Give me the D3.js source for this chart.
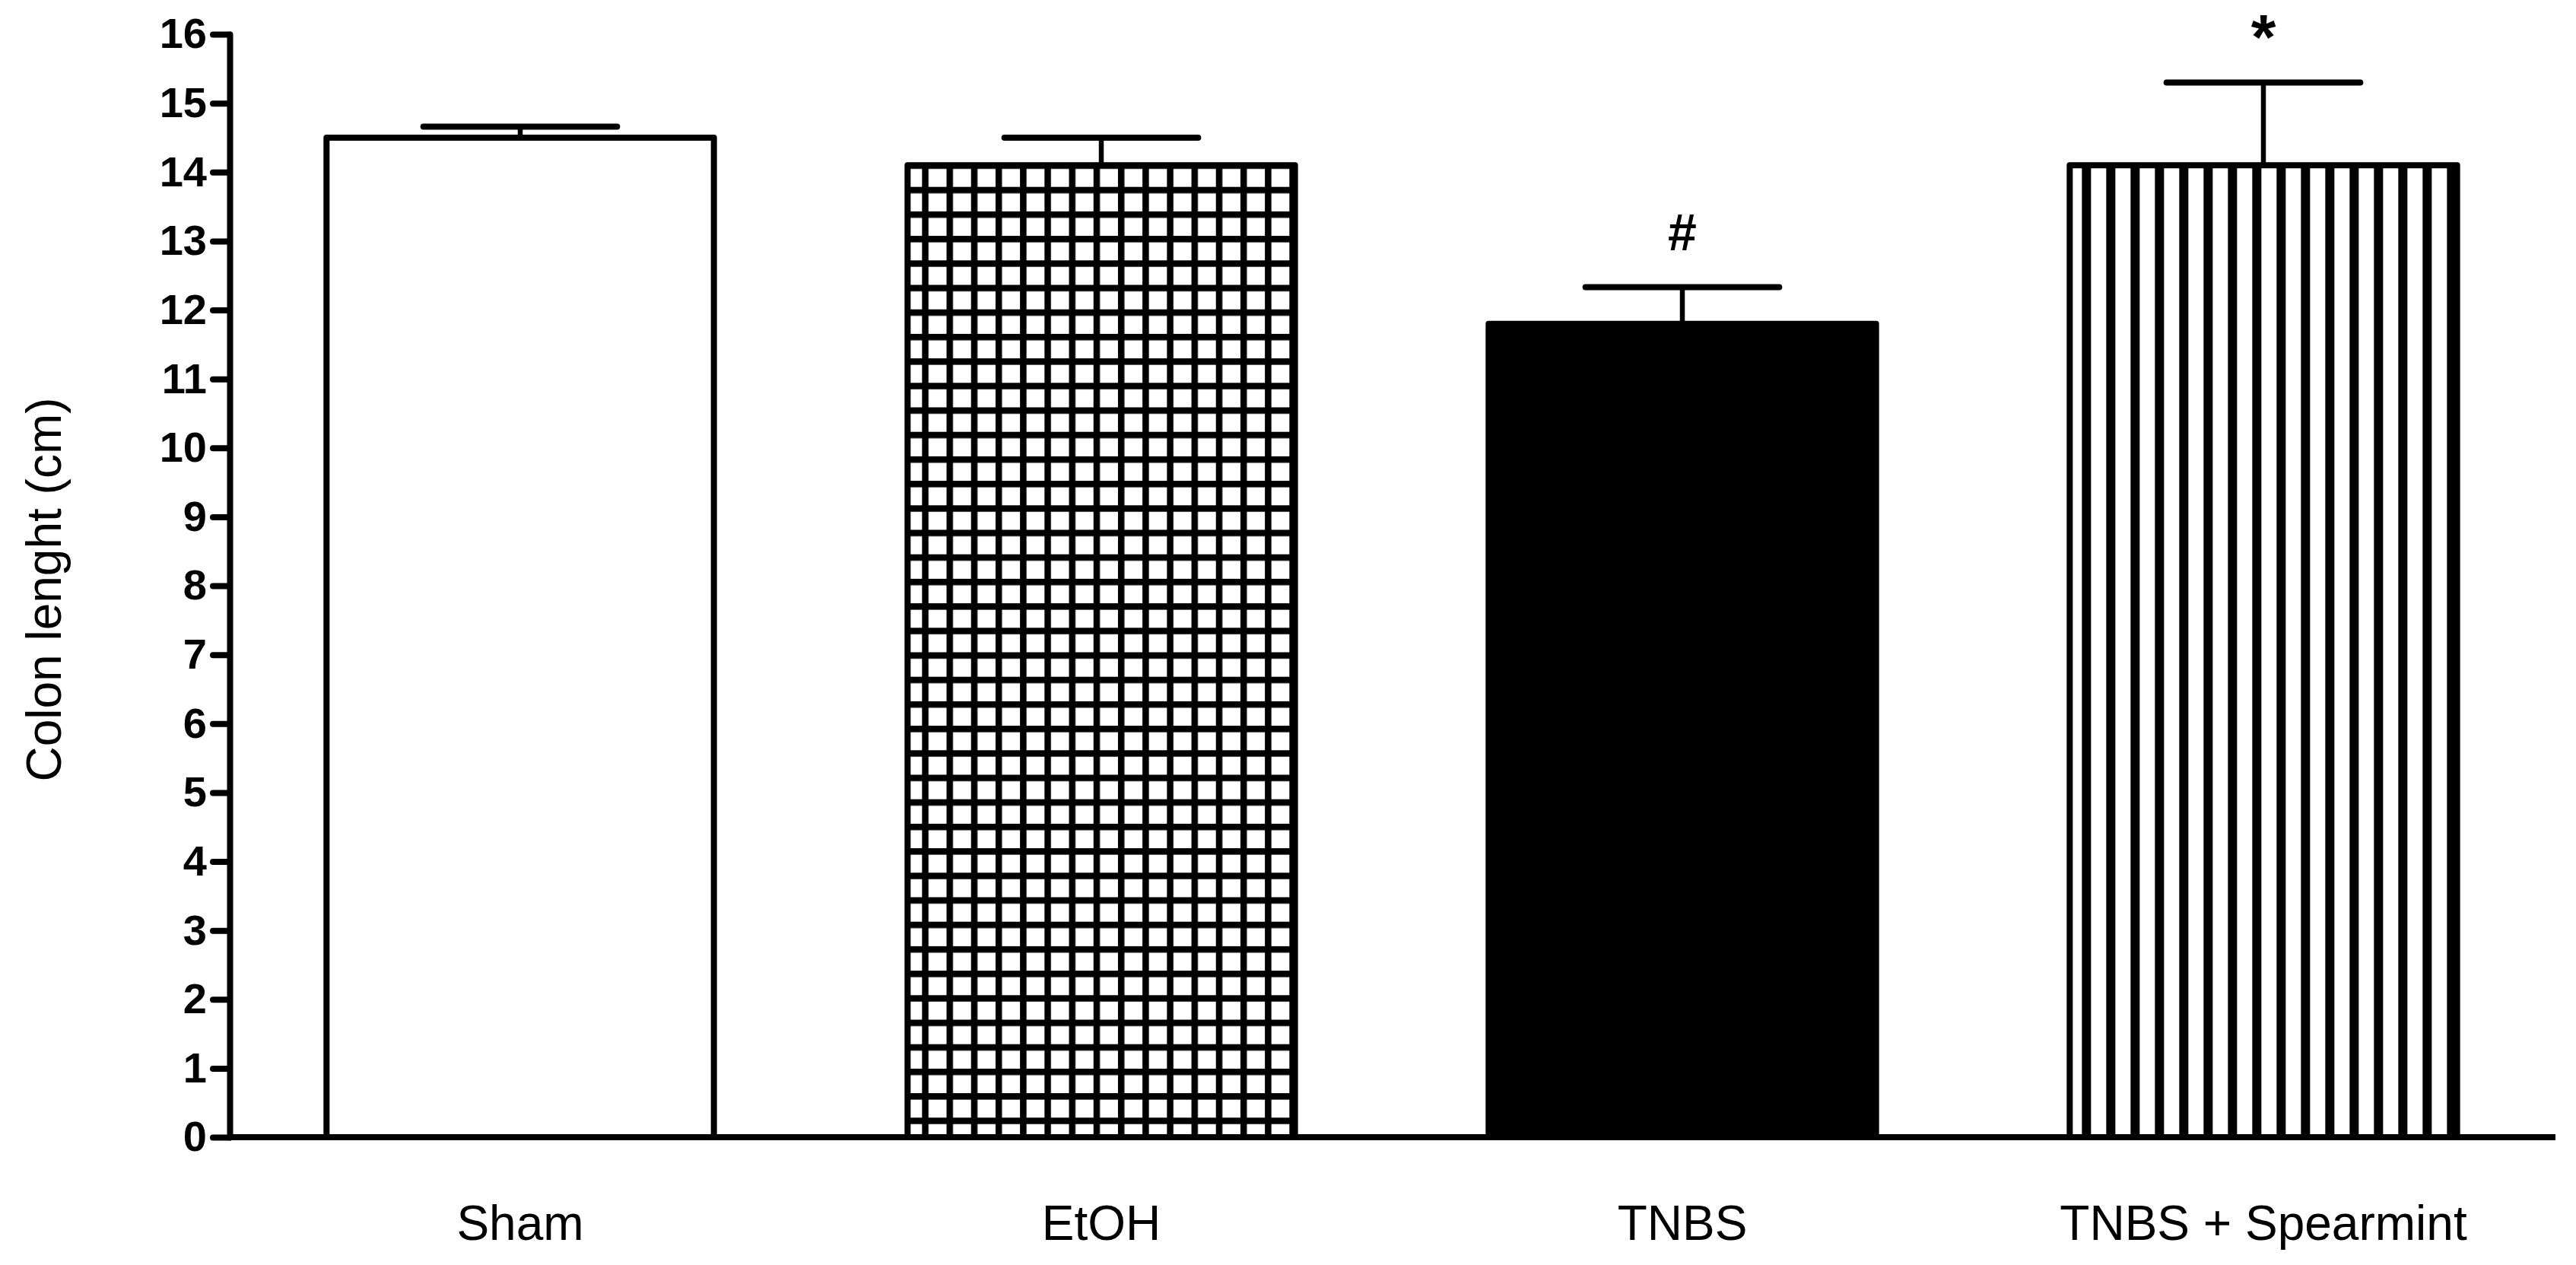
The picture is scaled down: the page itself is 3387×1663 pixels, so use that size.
<!DOCTYPE html>
<html>
<head>
<meta charset="utf-8">
<script src="https://cdn.jsdelivr.net/npm/d3@7"></script>
<style>
  html, body { margin: 0; padding: 0; background: #fff; }
  svg { display: block; }
  text { font-family: "Liberation Sans", Arial, sans-serif; }
</style>
</head>
<body>
<script>
// ---- Data ----
const categories = ["Sham", "EtOH", "TNBS", "TNBS + Spearmint"];
const means = [14.5, 14.1, 11.8, 14.1];
const sems = [0.16, 0.4, 0.53, 1.2];
const fillTypes = ["white", "grid", "solid", "stripes"];
const marks = ["", "", "#", "*"];
const yTicks = [0, 1, 2, 3, 4, 5, 6, 7, 8, 9, 10, 11, 12, 13, 14, 15, 16];
const yLabel = "Colon lenght (cm)";

// ---- Layout ----
const W = 3387, H = 1663;
const svg = d3.select("body").append("svg").attr("width", W).attr("height", H);
svg.append("rect").attr("width", W).attr("height", H).attr("fill", "#fff");

const x = d3.scaleBand().domain(categories).range([302, 3358]).paddingInner(1 / 3).paddingOuter(1 / 6);
const y = d3.scaleLinear().domain([0, 16]).range([1495, 45]);

const data = categories.map((c, i) => ({ cat: c, mean: means[i], sem: sems[i], fill: fillTypes[i], mark: marks[i], i }));

// ---- Patterns ----
const defs = svg.append("defs");
const pitch = 32.2;
data.forEach(d => {
  if (d.fill === "grid") {
    const p = defs.append("pattern").attr("id", "pat" + d.i)
      .attr("patternUnits", "userSpaceOnUse")
      .attr("width", pitch).attr("height", pitch)
      .attr("x", x(d.cat) + 19).attr("y", y(d.mean) + 28.5);
    p.append("rect").attr("width", pitch).attr("height", pitch).attr("fill", "#fff");
    p.append("rect").attr("x", 0).attr("y", 0).attr("width", 8.5).attr("height", pitch).attr("fill", "#000");
    p.append("rect").attr("x", 0).attr("y", 0).attr("width", pitch).attr("height", 8.5).attr("fill", "#000");
  } else if (d.fill === "stripes") {
    const p = defs.append("pattern").attr("id", "pat" + d.i)
      .attr("patternUnits", "userSpaceOnUse")
      .attr("width", 32).attr("height", 32)
      .attr("x", x(d.cat) + 16).attr("y", 0);
    p.append("rect").attr("width", 32).attr("height", 32).attr("fill", "#fff");
    p.append("rect").attr("x", 0).attr("y", 0).attr("width", 12).attr("height", 32).attr("fill", "#000");
  }
});
function fillOf(d) {
  if (d.fill === "white") return "#fff";
  if (d.fill === "solid") return "#000";
  return "url(#pat" + d.i + ")";
}

// ---- Bars ----
svg.append("g").selectAll("rect").data(data).join("rect")
  .attr("x", d => x(d.cat))
  .attr("y", d => y(d.mean))
  .attr("width", x.bandwidth())
  .attr("height", d => y(0) - y(d.mean))
  .attr("fill", fillOf)
  .attr("stroke", "#000")
  .attr("stroke-width", 8)
  .attr("stroke-linejoin", "round");

// ---- Error bars ----
const eb = svg.append("g").selectAll("g").data(data).join("g");
eb.append("line")
  .attr("x1", d => x(d.cat) + x.bandwidth() / 2)
  .attr("x2", d => x(d.cat) + x.bandwidth() / 2)
  .attr("y1", d => y(d.mean))
  .attr("y2", d => y(d.mean + d.sem))
  .attr("stroke", "#000").attr("stroke-width", 6.5);
eb.append("line")
  .attr("x1", d => x(d.cat) + x.bandwidth() / 4)
  .attr("x2", d => x(d.cat) + x.bandwidth() * 3 / 4)
  .attr("y1", d => y(d.mean + d.sem))
  .attr("y2", d => y(d.mean + d.sem))
  .attr("stroke", "#000").attr("stroke-width", 8).attr("stroke-linecap", "round");

// ---- Significance marks ----
svg.append("g").selectAll("text").data(data.filter(d => d.mark === "#")).join("text")
  .attr("x", d => x(d.cat) + x.bandwidth() / 2)
  .attr("y", 329)
  .attr("text-anchor", "middle")
  .attr("font-size", 68)
  .attr("font-weight", "bold")
  .text(d => d.mark);
svg.append("g").selectAll("text").data(data.filter(d => d.mark === "*")).join("text")
  .attr("x", d => x(d.cat) + x.bandwidth() / 2)
  .attr("y", 78)
  .attr("text-anchor", "middle")
  .attr("font-size", 84)
  .attr("font-weight", "bold")
  .text(d => d.mark);

// ---- Y axis ----
const yAxis = svg.append("g").attr("transform", `translate(${x.range()[0]},0)`)
  .call(d3.axisLeft(y).tickValues(yTicks).tickFormat(d3.format("d")).tickSize(22).tickSizeOuter(0).tickPadding(8));
yAxis.select(".domain").attr("stroke", "#000").attr("stroke-width", 8).attr("stroke-linecap", "round").attr("stroke-linejoin", "round");
yAxis.selectAll(".tick line").attr("stroke", "#000").attr("stroke-width", 8).attr("stroke-linecap", "round");
yAxis.selectAll(".tick text").attr("font-size", 56).attr("font-weight", "bold")
  .attr("font-family", '"Liberation Sans", Arial, sans-serif').attr("fill", "#000");

// ---- X axis ----
const xAxis = svg.append("g").attr("transform", `translate(0,${y(0)})`)
  .call(d3.axisBottom(x).tickSize(0).tickSizeOuter(0).tickPadding(0));
xAxis.select(".domain").attr("stroke", "#000").attr("stroke-width", 8)
  .attr("d", `M${x.range()[0]},0H${x.range()[1] + 2}`);
xAxis.selectAll(".tick text")
  .attr("dy", null)
  .attr("y", 135)
  .attr("font-size", 64)
  .attr("font-family", '"Liberation Sans", Arial, sans-serif')
  .attr("fill", "#000");

// ---- Y label ----
svg.append("text")
  .attr("transform", `translate(80,${(y(0) + y(16)) / 2 + 5}) rotate(-90)`)
  .attr("text-anchor", "middle")
  .attr("font-size", 64)
  .text(yLabel);
</script>
</body>
</html>
